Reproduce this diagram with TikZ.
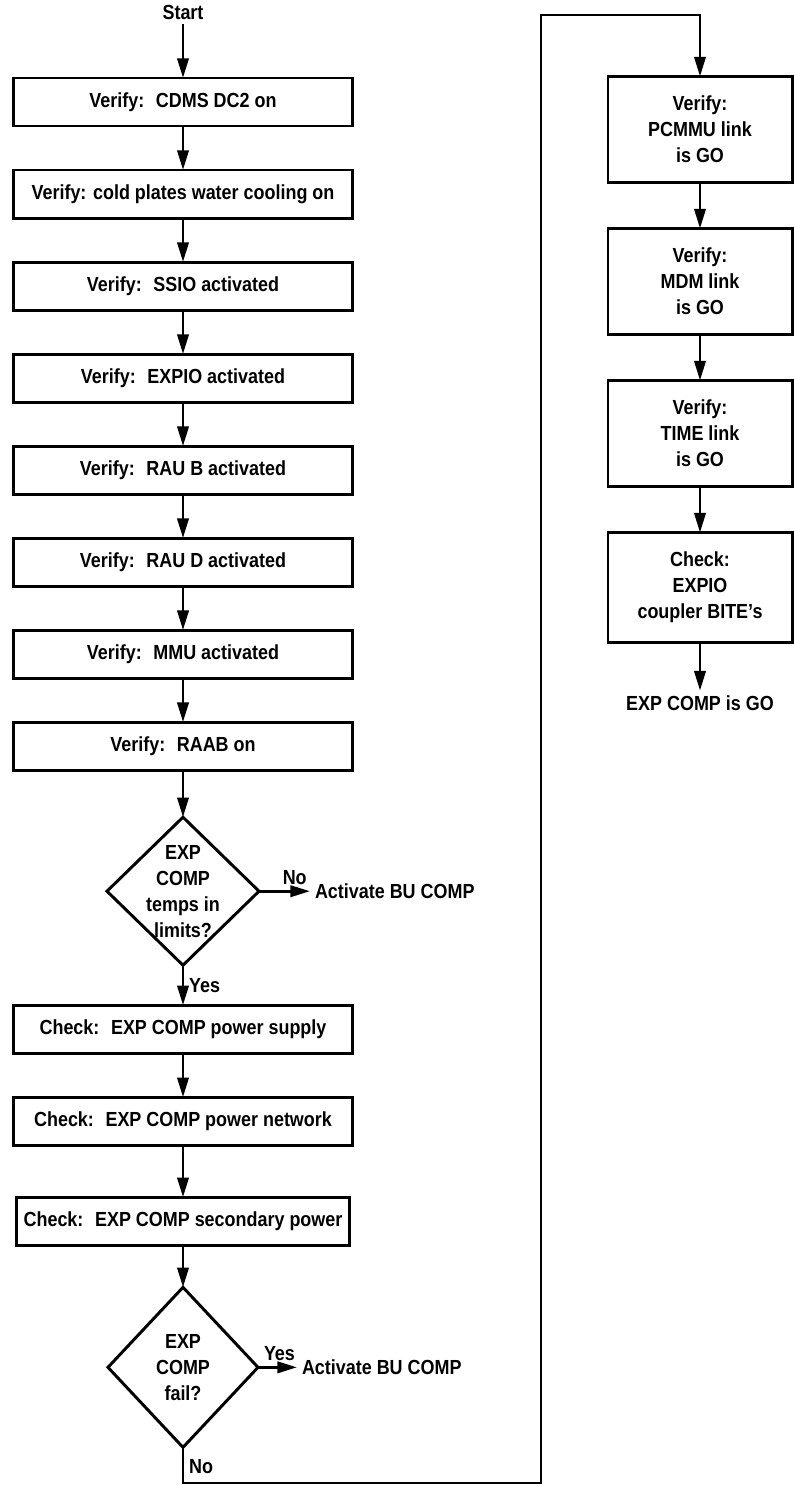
\documentclass[tikz,border=0pt]{standalone}
\usepackage{fontspec}
\setmainfont{Liberation Sans}[FakeStretch=0.88]
\usepackage{tikz}
\usetikzlibrary{shapes.geometric, positioning, arrows.meta}
\begin{document}
\begin{tikzpicture}[x=0.025cm, y=0.025cm,
    font=\fontsize{14.5}{18.5}\selectfont\bfseries,
    bx/.style={rectangle, draw, line width=2.1pt, outer sep=0pt, minimum width=8.45cm,
        minimum height=1.2cm, inner sep=2pt},
    rb/.style={bx, minimum width=4.6cm, minimum height=2.65cm, align=center},
    dm/.style={diamond, draw, line width=2.1pt, outer sep=0pt, minimum width=3.8cm,
        minimum height=3.7cm, inner sep=0pt},
    ar/.style={-{Triangle[width=8pt,length=14pt]}, line width=2.1pt},
    node distance=1.1cm]
\useasboundingbox (0,0) rectangle (794,-1486);
\node (start) at (183,-12) {Start};
\node[bx] (c1) at (183,-102) {Verify:~ CDMS DC2 on};
\node[bx, below=of c1] (c2) {Verify: cold plates water cooling on};
\node[bx, below=of c2] (c3) {Verify:~ SSIO activated};
\node[bx, below=of c3] (c4) {Verify:~ EXPIO activated};
\node[bx, below=of c4] (c5) {Verify:~ RAU B activated};
\node[bx, below=of c5] (c6) {Verify:~ RAU D activated};
\node[bx, below=of c6] (c7) {Verify:~ MMU activated};
\node[bx, below=of c7] (c8) {Verify:~ RAAB on};
\node[dm, below=1.175cm of c8] (d1) {};
\node[align=center] (d1t) at (d1) {EXP\\COMP\\temps in\\limits?};
\node[right=1.275cm of d1] (act1) {Activate BU COMP};
\node[bx, below=1.0cm of d1] (k1) {Check:~ EXP COMP power supply};
\node[bx, below=of k1] (k2) {Check:~ EXP COMP power network};
\node[bx, minimum width=8.3cm, below=1.3cm of k2] (k3) {Check:~ EXP COMP secondary power};
\node[dm, minimum width=3.75cm, minimum height=4cm, below=1.05cm of k3] (d2) {};
\node[align=center] (d2t) at (d2) {EXP\\COMP\\fail?};
\node[right=0.975cm of d2] (act2) {Activate BU COMP};
\node[rb] (r1) at (700,-129.5) {Verify:\\PCMMU link\\is GO};
\node[rb, below=1.15cm of r1] (r2) {Verify:\\MDM link\\is GO};
\node[rb, below=1.15cm of r2] (r3) {Verify:\\TIME link\\is GO};
\node[rb, minimum height=2.75cm, below=1.15cm of r3] (r4) {Check:\\EXPIO\\coupler BITE's};
\node[below=1.2cm of r4] (go) {EXP COMP is GO};
\coordinate (lpB) at (541,-1483);
\coordinate (lpT) at (541,-15);
\draw[ar] (start) -- (c1);
\foreach \a/\b in {c1/c2, c2/c3, c3/c4, c4/c5, c5/c6, c6/c7, c7/c8, c8/d1, k1/k2, k2/k3, k3/d2, r1/r2, r2/r3, r3/r4, r4/go}
    \draw[ar] (\a) -- (\b);
\draw[ar] (d1.east) -- node[above, pos=0.7] {No} (act1);
\draw[ar] (d1.south) -- node[right] {Yes} (k1);
\draw[ar] (d2.east) -- node[above, pos=0.55] {Yes} (act2);
\draw[ar] (d2.south) -- node[right, pos=0.55] {No} (d2.south |- lpB) -- (lpB) -- (lpT) -| (r1.north);
\end{tikzpicture}
\end{document}
